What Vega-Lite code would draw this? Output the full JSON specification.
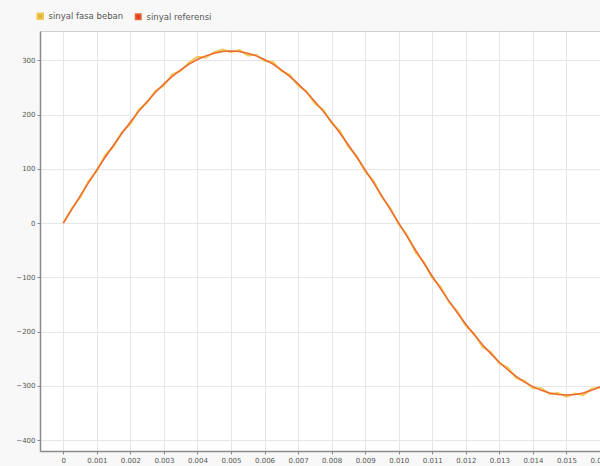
{
  "$schema": "https://vega.github.io/schema/vega-lite/v6.json",
  "autosize": {"type": "none"},
  "padding": {"left": 40, "top": 31, "right": 0, "bottom": 15},
  "width": 560,
  "height": 420,
  "background": "#f8f8f8",
  "config": {
    "view": {"fill": "white", "stroke": "#d0d0d0"},
    "font": "DejaVu Sans",
    "axis": {
      "labelFontSize": 7,
      "labelColor": "#555555",
      "gridColor": "#e6e6e6",
      "domainColor": "#8a8a8a",
      "domainWidth": 1.5,
      "tickColor": "#8a8a8a",
      "tickSize": 3,
      "title": null
    }
  },
  "data": {
    "values": [
      {"t": 0, "ref": 0, "load": 0},
      {"t": 0.00025, "ref": 24.9, "load": 26.9},
      {"t": 0.0005, "ref": 49.6, "load": 46.6},
      {"t": 0.00075, "ref": 74.0, "load": 77.0},
      {"t": 0.001, "ref": 98.0, "load": 96.0},
      {"t": 0.00125, "ref": 121.3, "load": 125.3},
      {"t": 0.0015, "ref": 143.9, "load": 140.9},
      {"t": 0.00175, "ref": 165.6, "load": 167.6},
      {"t": 0.002, "ref": 186.3, "load": 182.3},
      {"t": 0.00225, "ref": 205.9, "load": 208.9},
      {"t": 0.0025, "ref": 224.2, "load": 222.2},
      {"t": 0.00275, "ref": 241.0, "load": 244.0},
      {"t": 0.003, "ref": 256.5, "load": 253.5},
      {"t": 0.00325, "ref": 270.3, "load": 274.3},
      {"t": 0.0035, "ref": 282.4, "load": 280.4},
      {"t": 0.00375, "ref": 292.9, "load": 295.9},
      {"t": 0.004, "ref": 301.5, "load": 306.5},
      {"t": 0.00425, "ref": 308.2, "load": 305.2},
      {"t": 0.0045, "ref": 313.1, "load": 315.1},
      {"t": 0.00475, "ref": 316.0, "load": 320.0},
      {"t": 0.005, "ref": 317.0, "load": 315.0},
      {"t": 0.00525, "ref": 316.0, "load": 319.0},
      {"t": 0.0055, "ref": 313.1, "load": 309.1},
      {"t": 0.00575, "ref": 308.2, "load": 310.2},
      {"t": 0.006, "ref": 301.5, "load": 298.5},
      {"t": 0.00625, "ref": 292.9, "load": 296.9},
      {"t": 0.0065, "ref": 282.4, "load": 280.4},
      {"t": 0.00675, "ref": 270.3, "load": 273.3},
      {"t": 0.007, "ref": 256.5, "load": 253.5},
      {"t": 0.00725, "ref": 241.0, "load": 243.0},
      {"t": 0.0075, "ref": 224.2, "load": 220.2},
      {"t": 0.00775, "ref": 205.9, "load": 208.9},
      {"t": 0.008, "ref": 186.3, "load": 184.3},
      {"t": 0.00825, "ref": 165.6, "load": 169.6},
      {"t": 0.0085, "ref": 143.9, "load": 140.9},
      {"t": 0.00875, "ref": 121.3, "load": 123.3},
      {"t": 0.009, "ref": 98.0, "load": 95.0},
      {"t": 0.00925, "ref": 74.0, "load": 78.0},
      {"t": 0.0095, "ref": 49.6, "load": 47.6},
      {"t": 0.00975, "ref": 24.9, "load": 27.9},
      {"t": 0.01, "ref": 0, "load": -2.0},
      {"t": 0.01025, "ref": -24.9, "load": -21.9},
      {"t": 0.0105, "ref": -49.6, "load": -53.6},
      {"t": 0.01075, "ref": -74.0, "load": -72.0},
      {"t": 0.011, "ref": -98.0, "load": -101.0},
      {"t": 0.01125, "ref": -121.3, "load": -117.3},
      {"t": 0.0115, "ref": -143.9, "load": -145.9},
      {"t": 0.01175, "ref": -165.6, "load": -162.6},
      {"t": 0.012, "ref": -186.3, "load": -189.3},
      {"t": 0.01225, "ref": -205.9, "load": -203.9},
      {"t": 0.0125, "ref": -224.2, "load": -228.2},
      {"t": 0.01275, "ref": -241.0, "load": -238.0},
      {"t": 0.013, "ref": -256.5, "load": -258.5},
      {"t": 0.01325, "ref": -270.3, "load": -266.3},
      {"t": 0.0135, "ref": -282.4, "load": -285.4},
      {"t": 0.01375, "ref": -292.9, "load": -290.9},
      {"t": 0.014, "ref": -301.5, "load": -304.5},
      {"t": 0.01425, "ref": -308.2, "load": -304.2},
      {"t": 0.0145, "ref": -313.1, "load": -315.1},
      {"t": 0.01475, "ref": -316.0, "load": -313.0},
      {"t": 0.015, "ref": -317.0, "load": -320.0},
      {"t": 0.01525, "ref": -316.0, "load": -314.0},
      {"t": 0.0155, "ref": -313.1, "load": -317.1},
      {"t": 0.01575, "ref": -308.2, "load": -305.2},
      {"t": 0.016, "ref": -301.5, "load": -303.5}
    ]
  },
  "transform": [
    {"fold": ["load", "ref"], "as": ["series", "value"]}
  ],
  "mark": {"type": "line", "clip": true, "interpolate": "linear"},
  "encoding": {
    "x": {
      "field": "t",
      "type": "quantitative",
      "scale": {"domain": [-0.000694, 0.016], "nice": false, "zero": false},
      "axis": {"values": [0, 0.001, 0.002, 0.003, 0.004, 0.005, 0.006, 0.007, 0.008, 0.009, 0.01, 0.011, 0.012, 0.013, 0.014, 0.015, 0.016], "labelExpr": "datum.value == 0 ? '0' : format(datum.value, '.3f')", "labelFlush": false, "labelOverlap": false}
    },
    "y": {
      "field": "value",
      "type": "quantitative",
      "scale": {"domain": [-420, 354], "nice": false},
      "axis": {"values": [-400, -300, -200, -100, 0, 100, 200, 300], "labelFlush": false}
    },
    "color": {
      "field": "series",
      "type": "nominal",
      "scale": {"domain": ["load", "ref"], "range": ["#f3c656", "#ea6a32"]},
      "legend": {
        "orient": "none",
        "legendX": -4,
        "legendY": -19,
        "direction": "horizontal",
        "title": null,
        "symbolType": "square",
        "symbolSize": 30,
        "labelFontSize": 8.5,
        "labelColor": "#555555",
        "columnPadding": 8,
        "labelExpr": "datum.value == 'load' ? 'sinyal fasa beban' : 'sinyal referensi'",
        "encode": {
          "symbols": {
            "update": {
              "fill": {"signal": "datum.value == 'load' ? '#d8b82a' : '#e23e26'"},
              "stroke": {"signal": "datum.value == 'load' ? '#d8b82a' : '#e23e26'"},
              "strokeWidth": {"value": 0}
            }
          }
        }
      }
    },
    "strokeWidth": {
      "field": "series",
      "type": "nominal",
      "scale": {"domain": ["load", "ref"], "range": [2, 1.5]},
      "legend": null
    }
  }
}
